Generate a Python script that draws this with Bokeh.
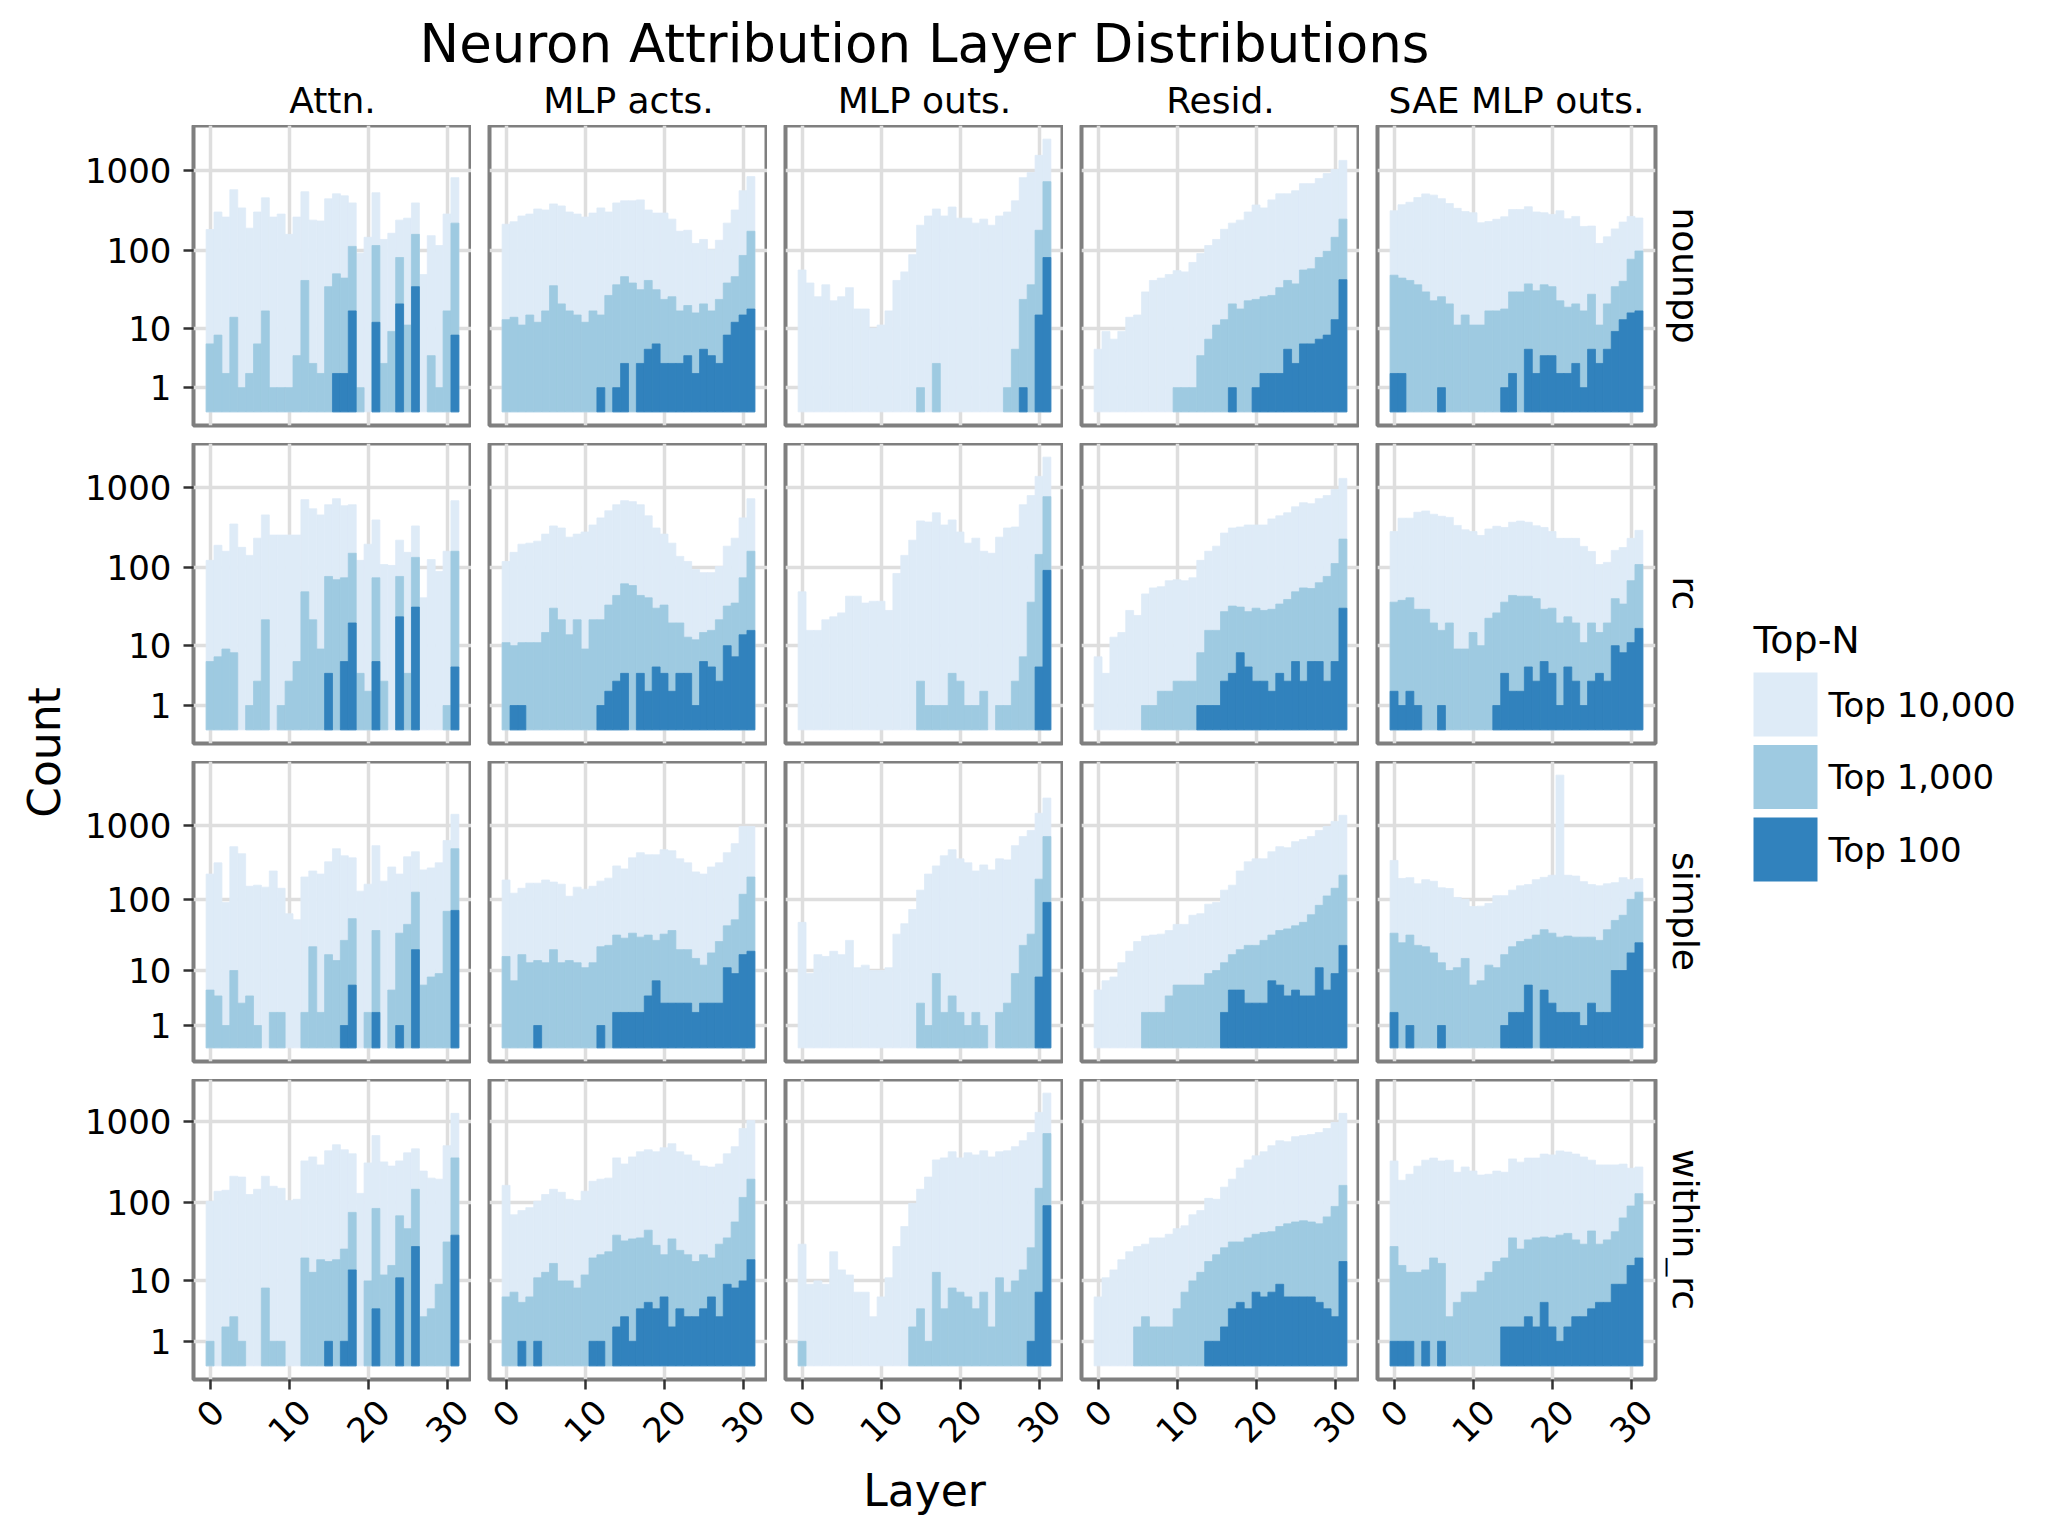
import math
import numpy as np
from bokeh.plotting import figure
from bokeh.models import Range1d, FixedTicker, LinearAxis, CustomJSTickFormatter, Grid, ColumnDataSource
from bokeh.layouts import row, column
from bokeh.core.properties import value
from bokeh.embed import file_html
from bokeh.resources import INLINE

# ---------------- data ----------------
layers = list(range(32))
sources = ["Attn.", "MLP acts.", "MLP outs.", "Resid.", "SAE MLP outs."]
tasks = ["nounpp", "rc", "simple", "within_rc"]
topn_labels = ["Top 10,000", "Top 1,000", "Top 100"]
topn_colors = ["#deebf7", "#9ecae1", "#3182bd"]
y_tick_counts = [1, 10, 100, 1000]
x_tick_layers = [0, 10, 20, 30]

# nounpp
nounpp_attn_10k = [184,304,263,576,342,191,304,457,263,287,160,263,544,241,235,444,513,484,395,93,147,529,138,165,241,255,395,50,154,116,287,816]
nounpp_attn_1k = [6,8,2,14,1,2,6,17,1,1,1,4,42,3,2,35,51,45,113,1,0,116,3,9,82,11,160,0,4,1,17,221]
nounpp_attn_100 = [0,0,0,0,0,0,0,0,0,0,0,0,0,0,0,0,2,2,17,0,0,12,0,0,21,0,35,0,0,0,0,8]
nounpp_mlpacts_10k = [214,230,271,287,332,322,384,362,304,287,263,295,342,304,395,419,419,431,322,295,295,248,175,180,123,138,103,135,221,322,560,840]
nounpp_mlpacts_1k = [13,14,11,15,12,17,36,21,17,15,12,17,15,27,37,47,39,32,42,32,24,26,17,20,16,21,17,24,39,47,87,175]
nounpp_mlpacts_100 = [0,0,0,0,0,0,0,0,0,0,0,0,1,0,1,3,0,3,5,6,3,3,3,4,2,5,4,3,8,12,15,18]
nounpp_mlpouts_10k = [57,39,26,37,23,26,34,18,18,10,11,17,42,54,89,208,271,332,271,351,255,255,221,248,208,271,304,419,816,943,1544,2458]
nounpp_mlpouts_1k = [0,0,0,0,0,0,0,0,0,0,0,0,0,0,0,1,0,3,0,0,0,0,0,0,0,0,1,5,24,37,180,727]
nounpp_mlpouts_100 = [0,0,0,0,0,0,0,0,0,0,0,0,0,0,0,0,0,0,0,0,0,0,0,0,0,0,0,0,1,0,15,82]
nounpp_resid_10k = [5,9,7,9,14,15,30,42,45,50,56,54,71,92,116,138,185,221,241,304,372,342,431,513,513,560,686,686,793,917,1030,1337]
nounpp_resid_1k = [0,0,0,0,0,0,0,0,0,0,1,1,1,4,7,11,13,21,18,23,24,26,27,34,42,38,57,59,82,98,147,248]
nounpp_resid_100 = [0,0,0,0,0,0,0,0,0,0,0,0,0,0,0,0,0,1,0,0,1,2,2,2,5,3,6,6,7,8,13,43]
nounpp_sae_10k = [315,375,402,461,512,494,446,388,338,308,298,223,231,247,265,326,326,354,304,298,284,315,250,268,201,203,123,149,187,228,268,256]
nounpp_sae_1k = [49,45,42,37,30,23,26,21,11,15,11,11,17,17,18,30,30,38,31,37,35,23,19,21,17,28,11,21,35,41,78,99]
nounpp_sae_100 = [2,2,0,0,0,0,1,0,0,0,0,0,0,0,1,2,0,5,2,4,4,2,2,3,1,5,3,5,9,13,16,17]

# rc
rc_attn_10k = [124,191,161,351,180,143,234,455,256,256,256,256,703,542,455,609,723,591,609,124,197,394,110,107,221,156,332,42,127,90,161,683]
rc_attn_1k = [6,7,9,8,0,1,3,22,0,1,3,6,50,22,9,78,71,75,152,4,2,75,3,0,78,4,135,0,0,0,1,161]
rc_attn_100 = [0,0,0,0,0,0,0,0,0,0,0,0,0,0,0,4,0,6,20,0,0,6,0,0,24,0,32,0,0,0,0,5]
rc_mlpacts_10k = [120,156,197,203,215,263,332,313,241,263,279,341,418,512,609,683,664,609,443,313,263,203,139,120,95,87,87,104,186,234,418,723]
rc_mlpacts_1k = [11,10,11,11,11,15,31,22,14,22,9,22,22,34,45,63,60,45,42,31,34,20,20,13,12,15,16,22,33,36,75,161]
rc_mlpacts_100 = [0,1,1,0,0,0,0,0,0,0,0,0,1,2,3,4,0,4,2,5,4,2,4,4,1,6,5,3,10,7,14,16]
rc_mlpouts_10k = [50,16,16,22,24,27,44,44,36,38,38,29,85,143,221,383,372,483,341,394,279,203,234,161,152,241,313,322,609,790,1366,2364]
rc_mlpouts_1k = [0,0,0,0,0,0,0,0,0,0,0,0,0,0,0,3,1,1,1,4,3,1,1,2,0,1,1,3,7,37,147,766]
rc_mlpouts_100 = [0,0,0,0,0,0,0,0,0,0,0,0,0,0,0,0,0,0,0,0,0,0,0,0,0,0,0,0,0,0,5,93]
rc_resid_10k = [7,4,13,15,29,25,47,56,58,69,71,69,75,124,161,186,271,313,322,341,341,341,406,443,483,574,644,626,723,790,938,1290]
rc_resid_1k = [0,0,0,0,0,0,1,1,2,2,3,3,3,8,16,16,28,33,32,28,31,29,30,35,40,50,56,55,65,78,113,228]
rc_resid_100 = [0,0,0,0,0,0,0,0,0,0,0,0,0,1,1,1,3,4,8,5,3,3,2,4,3,6,3,6,6,3,6,31]
rc_sae_10k = [283,414,414,491,509,464,438,424,337,297,283,253,304,329,318,369,382,369,333,318,283,233,233,233,185,160,110,117,165,179,233,293]
rc_sae_1k = [37,39,42,30,30,20,16,20,9,9,15,10,23,27,37,45,44,44,41,30,31,20,24,20,11,20,15,20,41,35,69,110]
rc_sae_100 = [2,1,2,1,0,0,1,0,0,0,0,0,0,1,4,2,2,5,3,6,4,1,5,3,1,3,4,3,10,8,11,17]

# simple
simple_attn_10k = [218,309,90,511,410,149,154,145,240,140,63,52,199,240,218,319,480,385,361,128,159,527,175,272,218,373,436,248,264,309,617,1396]
simple_attn_1k = [5,4,1,10,3,4,1,0,2,2,0,0,2,22,2,17,14,27,54,0,2,37,0,5,34,45,124,6,8,9,68,480]
simple_attn_100 = [0,0,0,0,0,0,0,0,0,0,0,0,0,0,0,0,0,1,6,0,0,2,0,0,1,0,20,0,0,0,0,70]
simple_mlpacts_10k = [181,120,140,164,164,181,170,159,109,145,136,149,175,192,281,256,361,423,397,397,465,451,350,309,233,218,272,309,423,561,958,958]
simple_mlpacts_1k = [16,7,17,13,14,13,20,13,14,13,11,13,22,23,32,29,34,30,32,27,33,37,20,20,15,12,18,26,43,52,116,199]
simple_mlpacts_100 = [0,0,0,0,1,0,0,0,0,0,0,0,1,0,2,2,2,2,4,7,3,3,3,3,2,3,3,3,11,9,17,19]
simple_mlpouts_10k = [48,9,17,16,19,17,27,11,12,10,10,11,33,46,72,132,218,281,385,465,350,309,240,290,248,350,339,527,699,845,1442,2311]
simple_mlpouts_1k = [0,0,0,0,0,0,0,0,0,0,0,0,0,0,0,3,1,9,2,4,2,1,2,1,0,2,3,9,23,33,186,699]
simple_mlpouts_100 = [0,0,0,0,0,0,0,0,0,0,0,0,0,0,0,0,0,0,0,0,0,0,0,0,0,0,0,0,0,0,8,90]
simple_resid_10k = [5,7,8,13,19,26,31,32,33,37,45,45,60,63,85,90,132,154,240,319,350,350,436,511,495,598,637,699,845,958,1121,1354]
simple_resid_1k = [0,0,0,0,0,0,2,2,2,4,6,6,6,6,9,10,13,17,20,23,23,27,32,37,39,43,48,61,82,110,140,211]
simple_resid_100 = [0,0,0,0,0,0,0,0,0,0,0,0,0,0,0,0,2,5,5,3,3,3,7,6,4,5,4,4,11,5,9,23]
simple_sae_10k = [333,190,195,161,183,174,142,139,105,99,79,80,87,111,111,132,151,157,183,197,210,4708,210,205,172,157,151,161,167,195,183,190]
simple_sae_1k = [34,25,32,23,22,18,13,10,11,15,6,7,12,11,17,22,26,28,32,38,34,30,31,30,30,30,27,38,51,60,99,124]
simple_sae_100 = [2,0,1,0,0,0,1,0,0,0,0,0,0,0,1,2,2,6,0,5,3,2,2,2,1,3,2,2,10,10,18,25]

# within_rc
within_attn_10k = [103,137,141,210,205,125,145,210,158,149,105,109,324,363,289,431,512,444,396,129,306,663,315,280,324,407,456,243,199,193,498,1243]
within_attn_1k = [1,0,2,3,1,0,0,8,1,1,0,0,20,13,19,18,19,26,75,0,10,84,12,16,68,47,145,3,4,9,32,353]
within_attn_100 = [0,0,0,0,0,0,0,0,0,0,0,0,0,0,0,1,0,1,14,0,0,4,0,0,11,0,28,0,0,0,0,39]
within_mlpacts_10k = [162,70,79,86,103,125,145,133,109,105,137,182,193,199,353,297,363,419,444,419,470,527,419,384,324,280,272,297,396,485,810,1017]
within_mlpacts_1k = [6,7,5,6,11,13,17,10,10,8,12,20,22,24,39,33,35,36,45,29,22,35,25,22,18,22,20,30,36,57,115,193]
within_mlpacts_100 = [0,0,1,0,1,0,0,0,0,0,0,1,1,0,2,3,1,4,5,4,6,2,4,3,3,4,6,3,9,8,10,19]
within_mlpouts_10k = [30,9,10,9,24,14,12,7,7,3,6,11,28,50,97,145,205,333,353,419,353,407,384,431,363,419,431,485,574,722,1278,2201]
within_mlpouts_1k = [1,0,0,0,0,0,0,0,0,0,0,0,0,0,2,4,1,13,4,8,7,6,4,7,2,11,7,10,14,27,149,702]
within_mlpouts_100 = [0,0,0,0,0,0,0,0,0,0,0,0,0,0,0,0,0,0,0,0,0,0,0,0,0,0,0,0,0,1,7,91]
within_resid_10k = [6,11,14,19,24,28,30,36,36,40,47,51,70,79,112,109,154,193,265,333,374,419,498,574,557,644,663,682,722,810,961,1243]
within_resid_1k = [0,0,0,0,0,2,3,2,2,2,4,7,10,13,18,22,27,32,32,36,40,42,43,50,54,57,59,57,54,66,89,162]
within_resid_100 = [0,0,0,0,0,0,0,0,0,0,0,0,0,0,1,1,2,4,5,4,7,6,7,9,6,6,6,6,5,4,3,18]
within_sae_10k = [323,187,222,279,331,351,323,331,235,273,243,217,222,243,235,343,313,351,351,393,384,430,416,393,362,331,289,289,289,296,263,273]
within_sae_1k = [28,16,13,13,14,20,17,3,5,7,7,10,13,18,20,36,26,34,36,37,36,39,41,34,30,44,30,34,43,64,90,128]
within_sae_100 = [1,1,1,0,1,0,1,0,0,0,0,0,0,0,2,2,2,3,2,5,2,1,2,3,3,4,5,5,9,9,16,20]

panel_data = {
    ("nounpp", "Attn."): (nounpp_attn_10k, nounpp_attn_1k, nounpp_attn_100),
    ("nounpp", "MLP acts."): (nounpp_mlpacts_10k, nounpp_mlpacts_1k, nounpp_mlpacts_100),
    ("nounpp", "MLP outs."): (nounpp_mlpouts_10k, nounpp_mlpouts_1k, nounpp_mlpouts_100),
    ("nounpp", "Resid."): (nounpp_resid_10k, nounpp_resid_1k, nounpp_resid_100),
    ("nounpp", "SAE MLP outs."): (nounpp_sae_10k, nounpp_sae_1k, nounpp_sae_100),
    ("rc", "Attn."): (rc_attn_10k, rc_attn_1k, rc_attn_100),
    ("rc", "MLP acts."): (rc_mlpacts_10k, rc_mlpacts_1k, rc_mlpacts_100),
    ("rc", "MLP outs."): (rc_mlpouts_10k, rc_mlpouts_1k, rc_mlpouts_100),
    ("rc", "Resid."): (rc_resid_10k, rc_resid_1k, rc_resid_100),
    ("rc", "SAE MLP outs."): (rc_sae_10k, rc_sae_1k, rc_sae_100),
    ("simple", "Attn."): (simple_attn_10k, simple_attn_1k, simple_attn_100),
    ("simple", "MLP acts."): (simple_mlpacts_10k, simple_mlpacts_1k, simple_mlpacts_100),
    ("simple", "MLP outs."): (simple_mlpouts_10k, simple_mlpouts_1k, simple_mlpouts_100),
    ("simple", "Resid."): (simple_resid_10k, simple_resid_1k, simple_resid_100),
    ("simple", "SAE MLP outs."): (simple_sae_10k, simple_sae_1k, simple_sae_100),
    ("within_rc", "Attn."): (within_attn_10k, within_attn_1k, within_attn_100),
    ("within_rc", "MLP acts."): (within_mlpacts_10k, within_mlpacts_1k, within_mlpacts_100),
    ("within_rc", "MLP outs."): (within_mlpouts_10k, within_mlpouts_1k, within_mlpouts_100),
    ("within_rc", "Resid."): (within_resid_10k, within_resid_1k, within_resid_100),
    ("within_rc", "SAE MLP outs."): (within_sae_10k, within_sae_1k, within_sae_100),
}
for k, v in panel_data.items():
    for s in v:
        assert len(s) == len(layers), k

# ---------------- geometry / style ----------------
FONT = "DejaVu Sans"
PANEL_W, PANEL_H, GAP = 278, 300, 18
AXIS_W = 115
LEFT_W = 78
EXTRA_R = 10
RIGHT_W = 2040 - LEFT_W - (AXIS_W + 5 * PANEL_W + 4 * GAP + EXTRA_R)
HEADER_H = 125
BOTTOM_AX_H = 12
TICKLAB_H = 60
XLAB_H = 77
PANELS_R = AXIS_W + 5 * PANEL_W + 4 * GAP      # right edge of last panel in center column
CENTER_W = PANELS_R + EXTRA_R
TOTAL_H = HEADER_H + 4 * PANEL_H + 3 * GAP + BOTTOM_AX_H + TICKLAB_H + XLAB_H
MID = 0.35  # distance (in em) between the alphabetic baseline and the text middle

XLO = min(layers) - 0.5 - 0.05 * len(layers)
XHI = max(layers) + 0.5 + 0.05 * len(layers)
GRID_COLOR = "#dedede"
BORDER_COLOR = "#7f7f7f"
TICK_COLOR = "#333333"

def tr(v):
    return math.log10(v + 1.0)

yticks = [tr(v) for v in y_tick_counts]


def blank(w, h, xr, yr):
    p = figure(width=w, height=h, x_range=xr, y_range=yr, output_backend="svg",
               toolbar_location=None, title=None, x_axis_location=None, y_axis_location=None,
               min_border_left=0, min_border_right=0, min_border_top=0, min_border_bottom=0)
    p.center = [r for r in p.center if not isinstance(r, Grid)]
    p.outline_line_color = None
    p.background_fill_color = "white"
    p.border_fill_color = "white"
    return p


def txt(p, xs, ys, ss, size, angle=0.0, align="center", color="black"):
    p.text(x=xs, y=ys, text=ss, angle=angle, text_align=align, text_baseline="middle",
           text_font=value(FONT), text_font_size=value(f"{size}px"), text_color=color)


def style_axis(ax):
    ax.axis_line_color = None
    ax.major_tick_line_color = TICK_COLOR
    ax.major_tick_line_width = 2.5
    ax.major_tick_out = 10
    ax.major_tick_in = 0
    ax.minor_tick_line_color = None
    ax.major_label_text_font = FONT
    ax.major_label_text_color = "black"


grid_rows = []
for r, task in enumerate(tasks):
    M = max(tr(v) for src in sources for s in panel_data[(task, src)] for v in s)
    y0, y1 = -0.05 * M, 1.05 * M
    figs = []
    for c, src in enumerate(sources):
        left_b = AXIS_W if c == 0 else GAP
        right_b = EXTRA_R if c == len(sources) - 1 else 0
        bot_b = GAP if r < len(tasks) - 1 else BOTTOM_AX_H
        p = figure(width=PANEL_W + left_b + right_b, height=PANEL_H + bot_b,
                   x_range=Range1d(XLO, XHI), y_range=Range1d(y0, y1),
                   output_backend="svg", toolbar_location=None, title=None,
                   x_axis_location=None, y_axis_location=None,
                   min_border_left=left_b, min_border_right=right_b,
                   min_border_top=0, min_border_bottom=bot_b)
        p.center = [rr for rr in p.center if not isinstance(rr, Grid)]
        p.background_fill_color = "white"
        p.border_fill_color = "white"
        p.outline_line_color = BORDER_COLOR
        p.outline_line_width = 4
        gx = Grid(dimension=0, ticker=FixedTicker(ticks=x_tick_layers, minor_ticks=[]),
                  grid_line_color=GRID_COLOR, grid_line_width=3.5)
        gy = Grid(dimension=1, ticker=FixedTicker(ticks=yticks, minor_ticks=[]),
                  grid_line_color=GRID_COLOR, grid_line_width=3.5)
        p.add_layout(gx)
        p.add_layout(gy)
        for vals, col in zip(panel_data[(task, src)], topn_colors):
            arr = np.array(vals, dtype=float)
            m = arr > 0
            cds = ColumnDataSource(dict(layer=np.array(layers)[m],
                                        height=np.log10(arr[m] + 1.0)))
            p.vbar(x="layer", top="height", bottom=0, width=1, source=cds,
                   fill_color=col, line_color=col, line_width=0.8)
        if c == 0:
            ay = LinearAxis(ticker=FixedTicker(ticks=yticks, minor_ticks=[]),
                            formatter=CustomJSTickFormatter(
                                code="return String(Math.round(Math.pow(10, tick) - 1));"))
            style_axis(ay)
            ay.major_label_text_font_size = "34px"
            ay.major_label_standoff = 12
            p.add_layout(ay, "left")
        if r == len(tasks) - 1:
            ax = LinearAxis(ticker=FixedTicker(ticks=x_tick_layers, minor_ticks=[]))
            style_axis(ax)
            ax.major_label_text_font_size = "1px"
            ax.major_label_text_alpha = 0
            ax.major_label_standoff = 0
            p.add_layout(ax, "below")
        figs.append(p)
    grid_rows.append(row(*figs))

# tick label strip under the bottom row (rotated 45 degrees, centred on the ticks)
k = PANEL_W / (XHI - XLO)
tick_figs = []
for c in range(len(sources)):
    pl = AXIS_W + c * (PANEL_W + GAP)
    pr = pl + PANEL_W
    fl = 0 if c == 0 else pl - GAP // 2
    fr = CENTER_W if c == len(sources) - 1 else pr + GAP // 2
    tf = blank(fr - fl, TICKLAB_H,
               Range1d(XLO - (pl - fl) / k, XHI + (fr - pr) / k),
               Range1d(TICKLAB_H, 0))
    labs = [str(t) for t in x_tick_layers]
    ys = [2 + (0.636 * 34 * len(s) + 34) * math.sin(math.pi / 4) / 2 for s in labs]
    txt(tf, x_tick_layers, ys, labs, 34, angle=math.pi / 4)
    tick_figs.append(tf)

# header: title + column strips
hdr = blank(CENTER_W, HEADER_H, Range1d(0, CENTER_W), Range1d(HEADER_H, 0))
centers = [AXIS_W + c * (PANEL_W + GAP) + PANEL_W / 2 for c in range(len(sources))]
mid = (AXIS_W + PANELS_R) / 2
txt(hdr, [mid], [62 - MID * 53], ["Neuron Attribution Layer Distributions"], 53)
txt(hdr, centers, [113 - MID * 36] * len(sources), sources, 36)

# x axis title
xl = blank(CENTER_W, XLAB_H, Range1d(0, CENTER_W), Range1d(XLAB_H, 0))
txt(xl, [mid], [54 - MID * 44], ["Layer"], 44)

# y axis title
lf = blank(LEFT_W, TOTAL_H, Range1d(0, LEFT_W), Range1d(TOTAL_H, 0))
grid_mid = HEADER_H + (4 * PANEL_H + 3 * GAP) / 2
txt(lf, [59 - MID * 44], [grid_mid], ["Count"], 44, angle=math.pi / 2)

# right: row strips + legend (x measured from the right edge of the last panel)
rf = blank(RIGHT_W, TOTAL_H, Range1d(EXTRA_R, EXTRA_R + RIGHT_W), Range1d(TOTAL_H, 0))
row_centers = [HEADER_H + r * (PANEL_H + GAP) + PANEL_H / 2 for r in range(len(tasks))]
txt(rf, [17 + MID * 36] * len(tasks), row_centers, tasks, 36, angle=-math.pi / 2)

SW, STEP = 64, 72.5
leg_x = 98
sw_top = [grid_mid - 80 + STEP * i for i in range(3)]
txt(rf, [leg_x], [sw_top[0] - 19 - MID * 38], ["Top-N"], 38, align="left")
rf.quad(left=[leg_x] * 3, right=[leg_x + SW] * 3, top=sw_top,
        bottom=[t + SW for t in sw_top], fill_color=topn_colors, line_color=None)
txt(rf, [leg_x + SW + 11] * 3, [t + SW / 2 for t in sw_top], topn_labels, 34, align="left")

center_col = column(hdr, *grid_rows, row(*tick_figs), xl)
layout = row(lf, center_col, rf)

open("out.html", "w").write(file_html(layout, INLINE))
